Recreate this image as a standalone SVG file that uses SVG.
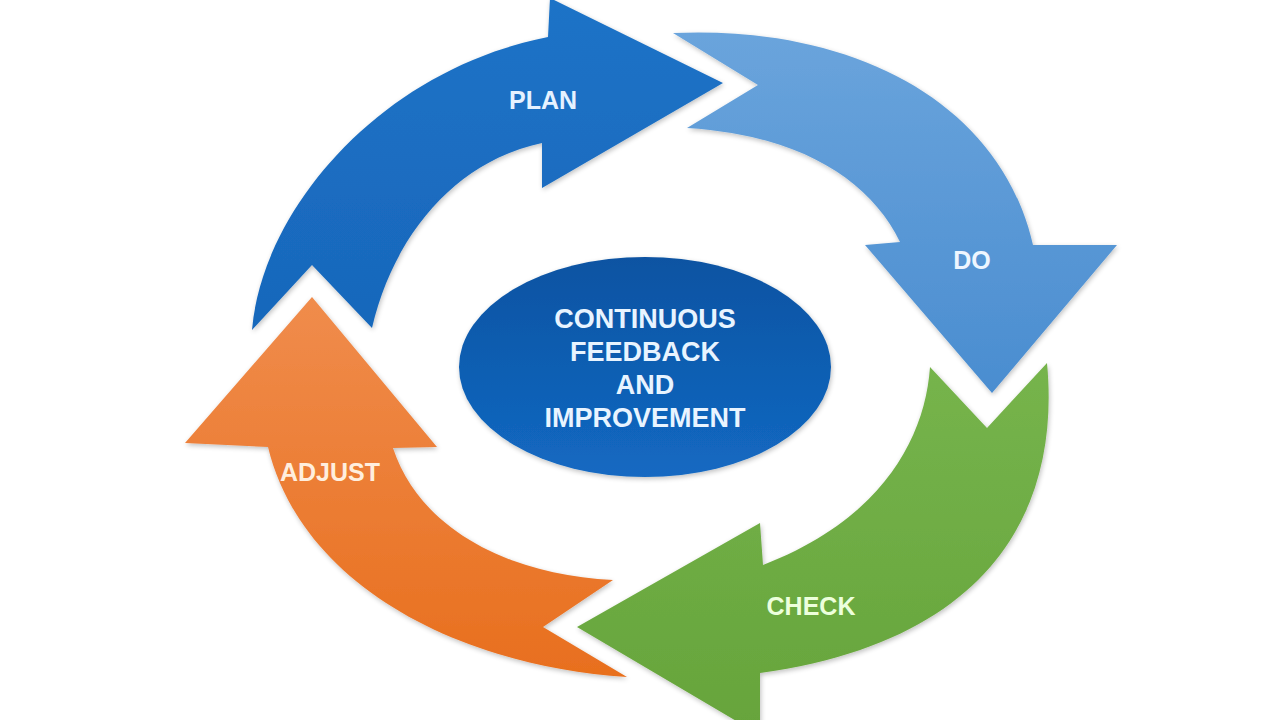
<svg xmlns="http://www.w3.org/2000/svg" width="1280" height="720" viewBox="0 0 1280 720">
  <defs>
    <linearGradient id="gPlan" x1="0" y1="0" x2="0" y2="1">
      <stop offset="0" stop-color="#1d73c7"/>
      <stop offset="1" stop-color="#1867bb"/>
    </linearGradient>
    <linearGradient id="gDo" x1="0" y1="0" x2="0" y2="1">
      <stop offset="0" stop-color="#6aa4dc"/>
      <stop offset="1" stop-color="#4a8dd0"/>
    </linearGradient>
    <linearGradient id="gCheck" x1="0" y1="0" x2="0" y2="1">
      <stop offset="0" stop-color="#76b44c"/>
      <stop offset="1" stop-color="#66a43b"/>
    </linearGradient>
    <linearGradient id="gAdjust" x1="0" y1="0" x2="0" y2="1">
      <stop offset="0" stop-color="#f08c4c"/>
      <stop offset="1" stop-color="#e86f1e"/>
    </linearGradient>
    <linearGradient id="gCenter" x1="0" y1="0" x2="0" y2="1">
      <stop offset="0" stop-color="#0b53a2"/>
      <stop offset="1" stop-color="#1369c2"/>
    </linearGradient>
    <filter id="soft" x="-10%" y="-10%" width="120%" height="120%">
      <feGaussianBlur in="SourceAlpha" stdDeviation="2.5"/>
      <feOffset dx="1" dy="2" result="b"/>
      <feComponentTransfer><feFuncA type="linear" slope="0.25"/></feComponentTransfer>
      <feMerge><feMergeNode/><feMergeNode in="SourceGraphic"/></feMerge>
    </filter>
  </defs>
  <style>
    .lbl { font-family: "Liberation Sans", Arial, sans-serif; font-weight: bold; font-size: 25px; text-anchor: middle; }
    .ctr { font-family: "Liberation Sans", Arial, sans-serif; font-weight: bold; font-size: 27px; text-anchor: middle; fill: #e8f4ff; }
  </style>
  <rect width="1280" height="720" fill="#ffffff"/>

  <g id="plan">
    <path filter="url(#soft)" fill="url(#gPlan)" d="M252,330 C262,210 380,70 548,37 L550,-2 L723,83 L542,188 L542,143 C460,160 395,230 372,328 L312,265 Z"/>
    <text class="lbl" x="543" y="109" fill="#e6f2ff">PLAN</text>
  </g>

  <g id="do">
    <path filter="url(#soft)" fill="url(#gDo)" d="M673,33 C850,25 1000,100 1033,245 L1117,245 L992,393 L865,245 L900,242 C870,180 800,135 687,128 L758,85 Z"/>
    <text class="lbl" x="972" y="269" fill="#eef6ff">DO</text>
  </g>

  <g id="check">
    <path filter="url(#soft)" fill="url(#gCheck)" d="M1047,363 C1060,500 1000,640 760,673 L760,735 L577,627 L760,523 L763,565 C880,520 925,440 930,367 L987,428 Z"/>
    <text class="lbl" x="811" y="615" fill="#ecffdc">CHECK</text>
  </g>

  <g id="adjust">
    <path filter="url(#soft)" fill="url(#gAdjust)" d="M627,677 C450,665 300,580 268,447 L185,443 L312,297 L437,447 L393,448 C420,530 510,575 613,580 L543,627 Z"/>
    <text class="lbl" x="330" y="481" fill="#ffeede">ADJUST</text>
  </g>

  <g id="center">
    <ellipse cx="645" cy="367" rx="186" ry="110" fill="url(#gCenter)" filter="url(#soft)"/>
    <text class="ctr" x="645" y="328">CONTINUOUS</text>
    <text class="ctr" x="645" y="361">FEEDBACK</text>
    <text class="ctr" x="645" y="394">AND</text>
    <text class="ctr" x="645" y="427">IMPROVEMENT</text>
  </g>

  <g id="connectors"/>
</svg>
